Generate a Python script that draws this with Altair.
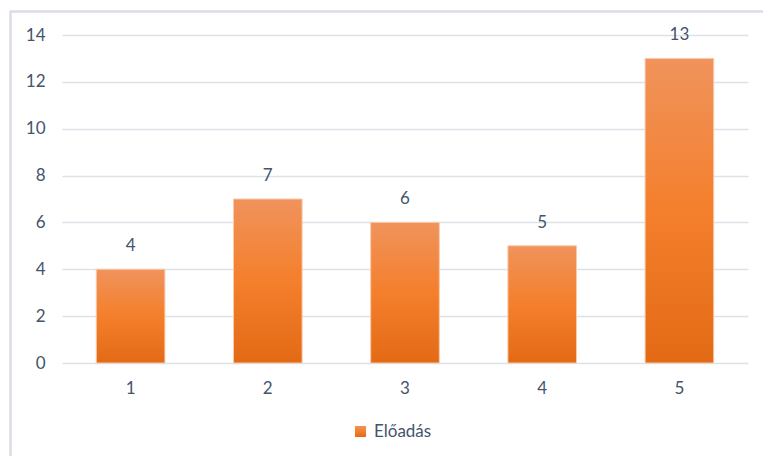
import altair as alt
import pandas as pd

categories = ["1", "2", "3", "4", "5"]
values = [4, 7, 6, 5, 13]
series_name = "Előadás"
y_ticks = [0, 2, 4, 6, 8, 10, 12, 14]

df = pd.DataFrame({"cat": categories, "val": values, "series": series_name})

text_color = "#44546A"
grid_color = "#DDE1E8"
font = "Lato"
font_size = 17

gradient = alt.LinearGradient(
    gradient="linear",
    x1=0, y1=0, x2=0, y2=1,
    stops=[
        alt.GradientStop(color="#F0935C", offset=0),
        alt.GradientStop(color="#F47F2C", offset=0.5),
        alt.GradientStop(color="#E36A15", offset=1),
    ],
)

base = alt.Chart(df)

x_enc = alt.X(
    "cat:N",
    sort=categories,
    scale=alt.Scale(paddingInner=0.5, paddingOuter=0.25),
    axis=alt.Axis(
        title=None, labelAngle=0, domain=False, ticks=False, grid=False,
        labelPadding=17, labelFontSize=font_size, labelColor=text_color, labelFont=font,
    ),
)
y_enc = alt.Y(
    "val:Q",
    scale=alt.Scale(domain=[0, 14], nice=False),
    axis=alt.Axis(
        title=None, values=y_ticks, domain=False, ticks=False,
        labelPadding=17, labelFontSize=font_size, labelColor=text_color, labelFont=font,
        grid=True, gridColor=grid_color, gridWidth=1.3,
    ),
)

bars = base.mark_bar(color=gradient, stroke="#F9C9A8", strokeWidth=1).encode(
    x=x_enc,
    y=y_enc,
    opacity=alt.Opacity(
        "series:N",
        scale=alt.Scale(range=[1]),
        legend=alt.Legend(
            title=None, orient="none", legendX=290, legendY=388,
            symbolType="square", symbolFillColor="#F07C2A", symbolStrokeWidth=0,
            symbolSize=120, labelFontSize=font_size, labelColor=text_color, labelFont=font,
            labelOffset=5,
        ),
    ),
)

labels = base.mark_text(
    dy=-14, baseline="bottom", fontSize=font_size, color=text_color, font=font
).encode(x=alt.X("cat:N", sort=categories), y="val:Q", text="val:Q")

# light frame around the whole figure (left and top edges stay in view)
frame = base.mark_rect(
    fill=None, stroke="#D9DEE6", strokeWidth=1.5
).encode(
    x=alt.value(-51.5), x2=alt.value(720),
    y=alt.value(-23.5), y2=alt.value(430),
)

chart = (
    alt.layer(frame, bars, labels)
    .properties(
        width=686, height=328,
        background="white",
        autosize=alt.AutoSizeParams(type="none"),
        padding={"left": 62, "top": 35, "right": 15, "bottom": 93},
    )
    .configure_view(stroke=None, strokeWidth=0)
)

chart.save("out.html", embed_options={"renderer": "svg", "actions": False})
